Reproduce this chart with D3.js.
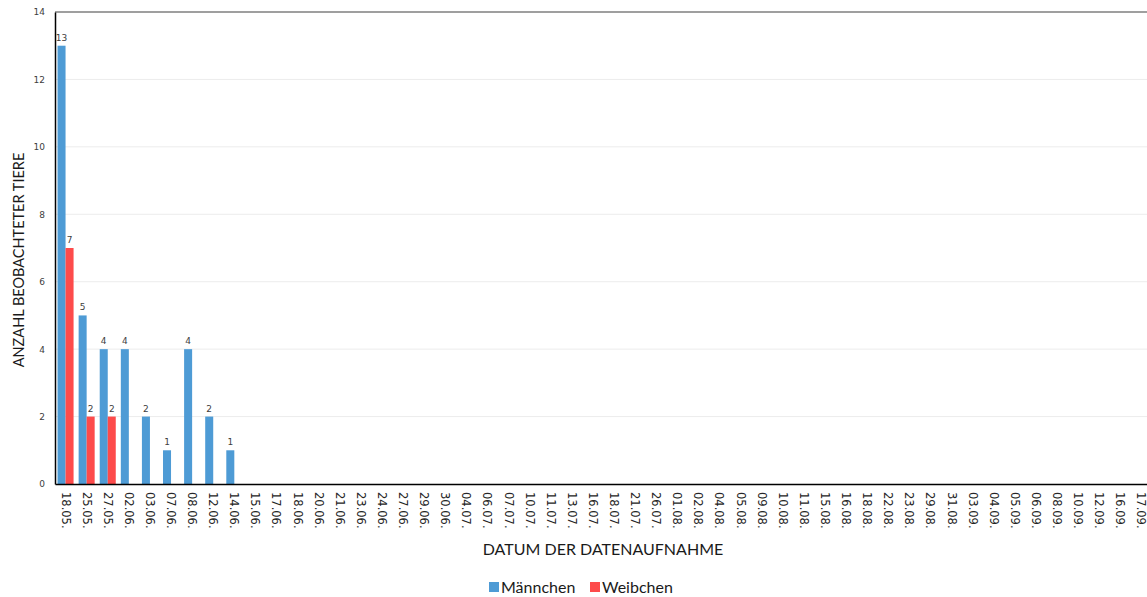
<!DOCTYPE html>
<html>
<head>
<meta charset="utf-8">
<script src="https://cdn.jsdelivr.net/npm/d3@7"></script>
<style>
  body { margin: 0; background: #fff; }
  svg { display: block; }
</style>
</head>
<body>
<svg id="chart" width="1147" height="597"></svg>
<script>
const dates = [
  "18.05.", "25.05.", "27.05.", "02.06.", "03.06.", "07.06.", "08.06.", "12.06.", "14.06.",
  "15.06.", "17.06.", "18.06.", "20.06.", "21.06.", "23.06.", "24.06.", "27.06.", "29.06.",
  "30.06.", "04.07.", "06.07.", "07.07.", "10.07.", "11.07.", "13.07.", "16.07.", "18.07.",
  "21.07.", "26.07.", "01.08.", "02.08.", "04.08.", "05.08.", "09.08.", "10.08.", "11.08.",
  "15.08.", "16.08.", "18.08.", "22.08.", "23.08.", "29.08.", "31.08.", "03.09.", "04.09.",
  "05.09.", "06.09.", "08.09.", "10.09.", "12.09.", "16.09.", "17.09."
];
const maennchen = [13, 5, 4, 4, 2, 1, 4, 2, 1];
const weibchen = [7, 2, 2];
const seriesNames = ["Männchen", "Weibchen"];
const seriesColors = ["#4e9bd5", "#fd4b4b"];
const yTicks = [0, 2, 4, 6, 8, 10, 12, 14];

const rows = dates.map((d, i) => ({
  date: d,
  values: [maennchen[i] || 0, weibchen[i] || 0]
}));

const svg = d3.select("#chart");
const margin = {left: 55, top: 12, bottom: 484};
const plotRight = 1152;

const x = d3.scaleBand().domain(dates).range([margin.left, plotRight]).paddingInner(0.24).paddingOuter(0.12);
const xs = d3.scaleBand().domain([0, 1]).range([0, x.bandwidth()]);
const y = d3.scaleLinear().domain([0, 14]).range([margin.bottom, margin.top]);

// gridlines
svg.append("g")
  .selectAll("line")
  .data(yTicks.filter(t => t > 0 && t < 14))
  .join("line")
  .attr("x1", margin.left).attr("x2", plotRight)
  .attr("y1", d => y(d)).attr("y2", d => y(d))
  .attr("stroke", "#ececec").attr("stroke-width", 1);

// top border
svg.append("line")
  .attr("x1", margin.left).attr("x2", plotRight)
  .attr("y1", y(14)).attr("y2", y(14))
  .attr("stroke", "#7f7f7f").attr("stroke-width", 1.5);

// bars
const groups = svg.append("g")
  .selectAll("g")
  .data(rows)
  .join("g")
  .attr("transform", d => `translate(${x(d.date)},0)`);

groups.selectAll("rect")
  .data(d => d.values.map((v, k) => ({k, v})))
  .join("rect")
  .attr("x", d => xs(d.k))
  .attr("width", xs.bandwidth())
  .attr("y", d => y(d.v))
  .attr("height", d => y(0) - y(d.v))
  .attr("fill", d => seriesColors[d.k]);

groups.selectAll("text")
  .data(d => d.values.map((v, k) => ({k, v})).filter(e => e.v > 0))
  .join("text")
  .attr("x", d => xs(d.k) + xs.bandwidth() / 2)
  .attr("y", d => y(d.v) - 5)
  .attr("text-anchor", "middle")
  .attr("font-family", "DejaVu Sans, sans-serif")
  .attr("font-size", 9)
  .attr("fill", "#404040")
  .text(d => d.v);

// y axis
const yAxis = svg.append("g")
  .attr("transform", `translate(${margin.left},0)`)
  .call(d3.axisLeft(y).tickValues(yTicks).tickSize(0).tickPadding(10));
yAxis.select(".domain").attr("stroke", "#000").attr("stroke-width", 1.5);
yAxis.selectAll("text")
  .attr("font-family", "DejaVu Sans, sans-serif")
  .attr("font-size", 9)
  .attr("fill", "#404040");

// x axis
const xAxis = svg.append("g")
  .attr("transform", `translate(0,${margin.bottom})`)
  .call(d3.axisBottom(x).tickSize(0).tickPadding(0));
xAxis.select(".domain").attr("stroke", "#000").attr("stroke-width", 1.5);
xAxis.selectAll("text")
  .attr("font-family", "DejaVu Sans, sans-serif")
  .attr("font-size", 11.5)
  .attr("fill", "#262626")
  .attr("text-anchor", "start")
  .attr("dy", "0.35em")
  .attr("transform", "translate(0,8) rotate(90)")
  .attr("x", 0).attr("y", 0);

// axis titles
svg.append("text")
  .attr("transform", `translate(24,${(margin.top + margin.bottom) / 2 + 12}) rotate(-90)`)
  .attr("text-anchor", "middle")
  .attr("font-family", "Lato, sans-serif")
  .attr("font-size", 14.5)
  .attr("fill", "#1a1a1a")
  .text("ANZAHL BEOBACHTETER TIERE");

svg.append("text")
  .attr("x", 603).attr("y", 555)
  .attr("text-anchor", "middle")
  .attr("font-family", "Lato, sans-serif")
  .attr("font-size", 16)
  .attr("fill", "#1a1a1a")
  .text("DATUM DER DATENAUFNAHME");

// legend
const legendX = [489, 590];
const legend = svg.append("g")
  .selectAll("g")
  .data(seriesNames)
  .join("g")
  .attr("transform", (d, i) => `translate(${legendX[i]},582)`);
legend.append("rect")
  .attr("width", 10).attr("height", 10)
  .attr("fill", (d, i) => seriesColors[i]);
legend.append("text")
  .attr("x", 12).attr("y", 10.5)
  .attr("font-family", "Lato, sans-serif")
  .attr("font-size", 16)
  .attr("fill", "#1a1a1a")
  .text(d => d);
</script>
</body>
</html>
